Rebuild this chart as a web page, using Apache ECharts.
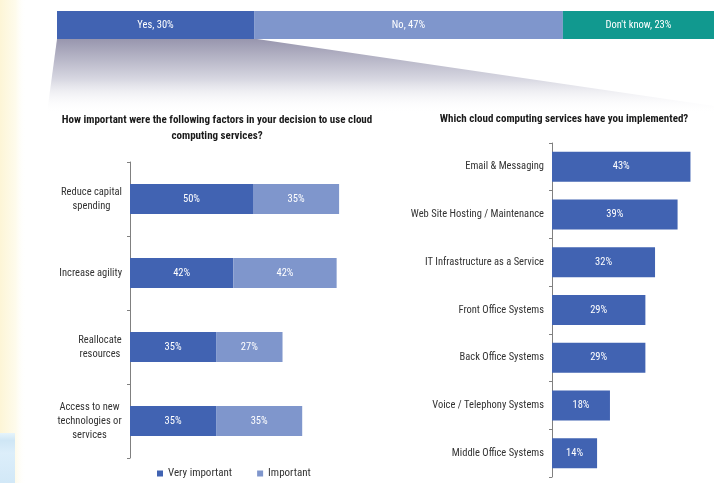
<!DOCTYPE html>
<html>
<head>
<meta charset="utf-8">
<script src="https://cdn.jsdelivr.net/npm/echarts@6/dist/echarts.min.js"></script>
<style>
html,body{margin:0;padding:0;background:#fff;}
#main{width:714px;height:483px;}
</style>
</head>
<body>
<div id="main"></div>
<script>
// ---- data ----
var topNames = ['Yes', 'No', "Don't know"];
var topValues = [30, 47, 23];

var factorCats = ['Reduce capital\nspending', 'Increase agility', 'Reallocate\nresources', 'Access to new\ntechnologies or\nservices'];
var veryImportant = [50, 42, 35, 35];
var important = [35, 42, 27, 35];

var serviceCats = ['Email & Messaging', 'Web Site Hosting / Maintenance', 'IT Infrastructure as a Service', 'Front Office Systems', 'Back Office Systems', 'Voice / Telephony Systems', 'Middle Office Systems'];
var serviceValues = [43, 39, 32, 29, 29, 18, 14];

var FONT = 'Roboto';
var STRETCH = 'condensed';
var DARK = '#4163b2';
var LIGHT = '#7f96cc';
var TEAL = '#11998f';
var LABEL_COLOR = '#333';
var CAT_SIZE = 10.5;

var chart = echarts.init(document.getElementById('main'));

// measure text width for centring multi-line category labels
var mctx = document.createElement('canvas').getContext('2d');
mctx.font = 'condensed ' + CAT_SIZE + 'px Roboto';
function tw(s) { return Math.ceil(mctx.measureText(s).width); }

var rich = {};
factorCats.forEach(function (v, idx) {
  var w = 0;
  v.split('\n').forEach(function (l) { w = Math.max(w, tw(l)); });
  rich['c' + idx] = { width: w, align: 'center', fontFamily: FONT, fontStyle: STRETCH, fontSize: CAT_SIZE, color: LABEL_COLOR, lineHeight: 14 };
});
function catFormatter(v, idx) {
  var lines = v.split('\n');
  if (lines.length === 1) return v;
  return lines.map(function (l) { return '{c' + idx + '|' + l + '}'; }).join('\n');
}

var topColors = [DARK, LIGHT, TEAL];
var series = [];
topNames.forEach(function (n, i) {
  series.push({
    name: n, type: 'bar', stack: 'top', xAxisIndex: 0, yAxisIndex: 0,
    barWidth: '100%', data: [topValues[i]],
    itemStyle: { color: topColors[i] },
    label: { show: true, position: 'inside', color: '#fff', fontFamily: FONT, fontStyle: STRETCH, fontSize: 10.5,
      formatter: function (p) { return p.seriesName + ', ' + p.value + '%'; } },
    silent: true
  });
});
var valLabel = { show: true, position: 'inside', color: '#fff', fontFamily: FONT, fontStyle: STRETCH, fontSize: 10.5, formatter: '{c}%' };
series.push({
  name: 'Very important', type: 'bar', stack: 'f', xAxisIndex: 1, yAxisIndex: 1,
  barWidth: 30, data: veryImportant, itemStyle: { color: DARK }, label: valLabel
});
series.push({
  name: 'Important', type: 'bar', stack: 'f', xAxisIndex: 1, yAxisIndex: 1,
  barWidth: 30, data: important, itemStyle: { color: LIGHT }, label: valLabel
});
series.push({
  name: 'Implemented', type: 'bar', xAxisIndex: 2, yAxisIndex: 2,
  barWidth: 30, data: serviceValues, itemStyle: { color: DARK }, label: valLabel
});

var axisLineStyle = { show: true, lineStyle: { color: '#808080', width: 1 } };

var option = {
  backgroundColor: '#ffffff',
  animation: false,
  graphic: [
    { type: 'rect', z: -10, shape: { x: 0, y: 0, width: 26, height: 483 },
      style: { fill: new echarts.graphic.LinearGradient(0, 0, 1, 0, [
        { offset: 0, color: '#fdf5d6' }, { offset: 0.6, color: '#fefbec' }, { offset: 1, color: 'rgba(255,255,255,0)' }]) } },
    { type: 'rect', z: -9, shape: { x: 0, y: 433, width: 15, height: 50 },
      style: { fill: new echarts.graphic.LinearGradient(0, 0, 0, 1, [
        { offset: 0, color: '#e6f4fb' }, { offset: 0.15, color: '#cfe6f5' }, { offset: 0.4, color: '#dceefa' }, { offset: 1, color: '#d2e8f7' }]) } },
    { type: 'polygon', z: -5, shape: { points: [[57, 39], [257, 39], [714, 106], [714, 113], [47, 113]] },
      style: { fill: new echarts.graphic.LinearGradient(0, 0, 0, 1, [
        { offset: 0, color: '#9896ae' }, { offset: 0.55, color: '#d8d8e2' }, { offset: 1, color: 'rgba(255,255,255,0)' }]) } }
  ],
  title: [
    { text: 'How important were the following factors in your decision to use cloud\ncomputing services?',
      left: 212, top: 107, textAlign: 'center',
      textStyle: { fontFamily: FONT, fontStyle: STRETCH, fontSize: 11, fontWeight: 'bold', color: '#1a1a1a', lineHeight: 16 } },
    { text: 'Which cloud computing services have you implemented?',
      left: 559, top: 109, textAlign: 'center',
      textStyle: { fontFamily: FONT, fontStyle: STRETCH, fontSize: 11, fontWeight: 'bold', color: '#1a1a1a' } }
  ],
  legend: {
    data: ['Very important', 'Important'],
    left: 152, top: 463, icon: 'rect', itemWidth: 6, itemHeight: 6, itemGap: 25,
    textStyle: { fontFamily: FONT, fontStyle: STRETCH, fontSize: 11, color: LABEL_COLOR }, selectedMode: false
  },
  grid: [
    { left: 57, top: 11, width: 668, height: 28 },
    { left: 130, top: 162, width: 246, height: 296 },
    { left: 552, top: 143, width: 161, height: 334 }
  ],
  xAxis: [
    { gridIndex: 0, type: 'value', min: 0, max: 100, show: false },
    { gridIndex: 1, type: 'value', min: 0, max: 100, show: false },
    { gridIndex: 2, type: 'value', min: 0, max: 50, show: false }
  ],
  yAxis: [
    { gridIndex: 0, type: 'category', data: ['All'], show: false },
    { gridIndex: 1, type: 'category', data: factorCats, inverse: true,
      axisLine: axisLineStyle, axisTick: { show: true, length: 3, lineStyle: { color: '#808080' } },
      axisLabel: { margin: 8, color: LABEL_COLOR, fontFamily: FONT, fontStyle: STRETCH, fontSize: CAT_SIZE, lineHeight: 14,
        formatter: catFormatter, rich: rich } },
    { gridIndex: 2, type: 'category', data: serviceCats, inverse: true,
      axisLine: axisLineStyle, axisTick: { show: true, length: 3, lineStyle: { color: '#808080' } },
      axisLabel: { margin: 8, color: LABEL_COLOR, fontFamily: FONT, fontStyle: STRETCH, fontSize: CAT_SIZE } }
  ],
  series: series
};
chart.setOption(option);
</script>
</body>
</html>
